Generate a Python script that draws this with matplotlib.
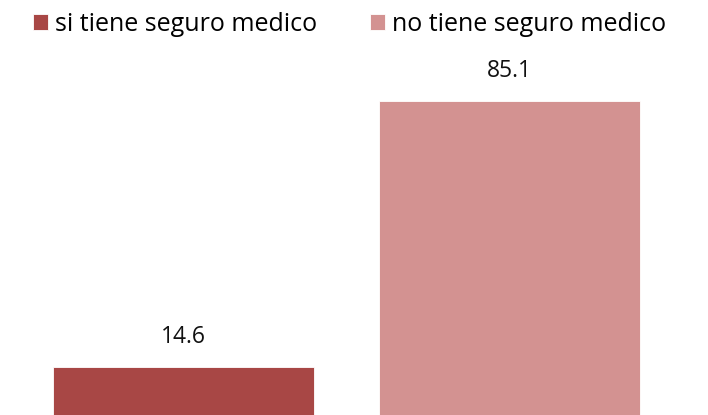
import matplotlib.pyplot as plt

# data
labels = ["si tiene seguro medico", "no tiene seguro medico"]
values = [14.6, 85.1]
colors = ["#A84745", "#D39291"]

fig = plt.figure(figsize=(7.08, 4.15), dpi=100)
ax = fig.add_axes([0, 0, 1, 1])

for i, (lab, v, c) in enumerate(zip(labels, values, colors)):
	ax.bar(i, v, width=0.802, color=c, edgecolor="white", linewidth=0.6, label=lab)
	# value label ~30px above the bar top
	ax.annotate(f"{v:.1f}", (i, v), xytext=(0, 21.6), textcoords="offset points",
	            ha="center", va="center", fontsize=16.5, family="Open Sans",
	            color="#111111")

ax.set_xlim(-0.564, 1.611)
ax.set_ylim(1.9, 111.8)
ax.axis("off")

fig.legend(loc="center", bbox_to_anchor=(0.494, 0.942), ncol=2, frameon=False,
           prop={"family": "Open Sans", "size": 18}, handlelength=0.6, handleheight=0.6,
           handletextpad=0.28, columnspacing=2.1, borderaxespad=0)

fig.savefig("out.png", dpi=100)
